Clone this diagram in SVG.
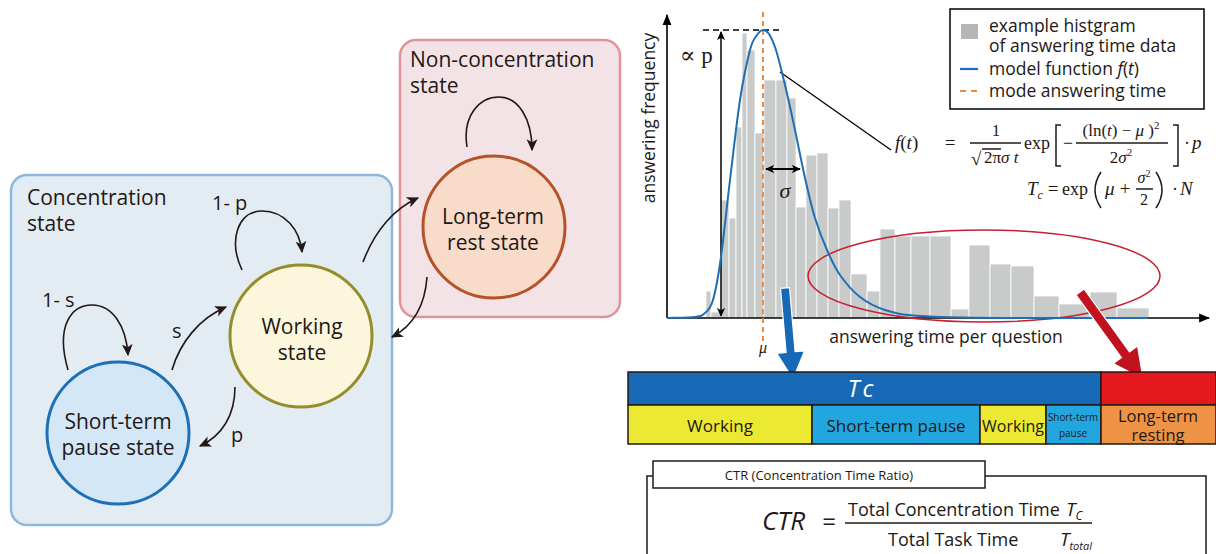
<svg xmlns="http://www.w3.org/2000/svg" width="1216" height="554" viewBox="0 0 1216 554">
<defs>
<style>
.t{font-family:"Open Sans","Liberation Sans",sans-serif;fill:#231815}
.m{font-family:"Liberation Serif","DejaVu Serif",serif;fill:#231815}
.i{font-style:italic}
.conn{fill:none;stroke:#231815;stroke-width:1.6}
.bar{fill:#c9caca;stroke:#fff;stroke-width:0.8}
.cell{stroke:#231815;stroke-width:1.5}
.ln{stroke:#231815;stroke-width:1.5;fill:none}
</style>
<marker id="ah" viewBox="0 0 10 10" refX="9" refY="5" markerWidth="12" markerHeight="12" markerUnits="userSpaceOnUse" orient="auto"><path d="M0,0.5 L10,5 L0,9.5 L2.5,5 z" fill="#231815"/></marker>
<marker id="ah2" viewBox="0 0 10 10" refX="9" refY="5" markerWidth="9" markerHeight="9" markerUnits="userSpaceOnUse" orient="auto-start-reverse"><path d="M0,0.5 L10,5 L0,9.5 L2.5,5 z" fill="#000"/></marker>
<marker id="axh" viewBox="0 0 10 10" refX="9" refY="5" markerWidth="11" markerHeight="11" markerUnits="userSpaceOnUse" orient="auto"><path d="M0,1 L10,5 L0,9 z" fill="#000"/></marker>
</defs>
<rect width="1216" height="554" fill="#fff"/>

<g id="concentration-state">
<rect x="11" y="175" width="381" height="350" rx="16" fill="#e3ebf3" stroke="#8db7dc" stroke-width="2.5"/>
<text class="t" x="27" y="205" font-size="21">Concentration</text>
<text class="t" x="27" y="231" font-size="21">state</text>
</g>
<g id="non-concentration-state">
<rect x="400" y="40" width="220" height="277" rx="16" fill="#f4e3e6" stroke="#e0939b" stroke-width="2.5"/>
<text class="t" x="410" y="67" font-size="21">Non-concentration</text>
<text class="t" x="410" y="93" font-size="21">state</text>
</g>
<g id="short-term-pause">
<circle cx="118" cy="433" r="71" fill="#d3e7f6" stroke="#1d6fb8" stroke-width="3"/>
<text class="t" x="118" y="429" font-size="21" text-anchor="middle">Short-term</text>
<text class="t" x="118" y="455" font-size="21" text-anchor="middle">pause state</text>
</g>
<g id="working">
<circle cx="301" cy="336" r="71" fill="#fbf6dc" stroke="#958d2c" stroke-width="3"/>
<text class="t" x="302" y="334" font-size="21" text-anchor="middle">Working</text>
<text class="t" x="302" y="360" font-size="21" text-anchor="middle">state</text>
</g>
<g id="long-term-rest">
<circle cx="494" cy="227" r="71" fill="#f9dbc9" stroke="#b5522a" stroke-width="3"/>
<text class="t" x="493" y="224" font-size="21" text-anchor="middle">Long-term</text>
<text class="t" x="493" y="250" font-size="21" text-anchor="middle">rest state</text>
</g>

<g id="connectors">
<path class="conn" marker-end="url(#ah)" d="M68,370 C55,325 72,305 92,305 C112,305 126,325 128,355"/>
<path class="conn" marker-end="url(#ah)" d="M242,270 C228,240 238,211 262,211 C285,211 300,230 302,252"/>
<path class="conn" marker-end="url(#ah)" d="M172,370 C180,342 200,318 226,307"/>
<path class="conn" marker-end="url(#ah)" d="M235,387 C235,415 222,436 200,446"/>
<path class="conn" marker-end="url(#ah)" d="M363,262 C375,230 395,208 418,198"/>
<path class="conn" marker-end="url(#ah)" d="M427,277 C425,305 413,326 392,337"/>
<path class="conn" marker-end="url(#ah)" d="M467,147 C462,115 480,97 499,97 C518,97 532,118 532,150"/>
<text class="t" x="42" y="307" font-size="20">1- s</text>
<text class="t" x="212" y="210" font-size="20">1- p</text>
<text class="t" x="172" y="338" font-size="20">s</text>
<text class="t" x="231" y="442" font-size="20">p</text>
</g>

<g id="histogram">
<rect class="bar" x="706" y="291" width="5" height="27"/>
<rect class="bar" x="711" y="312" width="10" height="6"/>
<rect class="bar" x="721" y="200" width="8" height="118"/>
<rect class="bar" x="729" y="218" width="7" height="100"/>
<rect class="bar" x="736" y="127" width="6" height="191"/>
<rect class="bar" x="742" y="33" width="5" height="285"/>
<rect class="bar" x="747" y="50" width="8" height="268"/>
<rect class="bar" x="755" y="133" width="9" height="185"/>
<rect class="bar" x="764" y="80" width="12" height="238"/>
<rect class="bar" x="776" y="80" width="11" height="238"/>
<rect class="bar" x="787" y="98" width="9" height="220"/>
<rect class="bar" x="796" y="207" width="10" height="111"/>
<rect class="bar" x="806" y="155" width="11" height="163"/>
<rect class="bar" x="817" y="153" width="11" height="165"/>
<rect class="bar" x="828" y="208" width="11" height="110"/>
<rect class="bar" x="839" y="200" width="12" height="118"/>
<rect class="bar" x="851" y="274" width="16" height="44"/>
<rect class="bar" x="867" y="291" width="13" height="27"/>
<rect class="bar" x="880" y="229" width="15" height="89"/>
<rect class="bar" x="895" y="236" width="16" height="82"/>
<rect class="bar" x="911" y="236" width="19" height="82"/>
<rect class="bar" x="930" y="236" width="21" height="82"/>
<rect class="bar" x="951" y="309" width="18" height="9"/>
<rect class="bar" x="969" y="245" width="21" height="73"/>
<rect class="bar" x="990" y="264" width="21" height="54"/>
<rect class="bar" x="1011" y="266" width="23" height="52"/>
<rect class="bar" x="1034" y="296" width="25" height="22"/>
<rect class="bar" x="1059" y="304" width="31" height="14"/>
<rect class="bar" x="1090" y="292" width="27" height="26"/>
<rect class="bar" x="1117" y="308" width="32" height="10"/>
</g>

<g id="axes">
<line x1="667" y1="318" x2="667" y2="15" stroke="#000" stroke-width="1.6" marker-end="url(#axh)"/>
<line x1="667" y1="318" x2="1209" y2="318" stroke="#000" stroke-width="1.6" marker-end="url(#axh)"/>
<text class="t" transform="translate(655,118) rotate(-90)" font-size="17.5" text-anchor="middle">answering frequency</text>
<text class="t" x="946" y="343" font-size="17.5" text-anchor="middle">answering time per question</text>
</g>

<g id="tail-ellipse">
<ellipse cx="984" cy="276" rx="176" ry="46" fill="none" stroke="#c8202f" stroke-width="1.5"/>
</g>

<g id="annotations">
<line x1="703" y1="30" x2="782" y2="30" stroke="#000" stroke-width="1.5" stroke-dasharray="6 4"/>
<line x1="721" y1="32" x2="721" y2="316" stroke="#000" stroke-width="1.5" marker-start="url(#ah2)" marker-end="url(#ah2)"/>
<text class="m" x="680" y="63" font-size="23">∝ p</text>
<line x1="763" y1="12" x2="763" y2="343" stroke="#f08a3c" stroke-width="2" stroke-dasharray="5 4"/>
<text class="m i" x="763" y="353" font-size="16" text-anchor="middle">μ</text>
<line x1="766" y1="169" x2="800" y2="169" stroke="#000" stroke-width="2" marker-start="url(#ah2)" marker-end="url(#ah2)"/>
<text class="m i" x="785" y="198" font-size="22" text-anchor="middle">σ</text>
<line x1="780" y1="72" x2="891" y2="150" stroke="#000" stroke-width="1.3"/>
</g>

<g id="model-curve">
<path fill="none" stroke="#1f6fb7" stroke-width="2" d="M667,318 C671.7,317.8 688.7,317.8 695,317 C701.3,316.2 702,315.8 705,313 C708,310.2 710.3,309.3 713,300 C715.7,290.7 718.2,277 721,257 C723.8,237 726.8,206.2 730,180 C733.2,153.8 736.7,121.7 740,100 C743.3,78.3 747.2,60.8 750,50 C752.8,39.2 754.8,38.3 757,35 C759.2,31.7 761,30.2 763,30 C765,29.8 766.8,30.7 769,34 C771.2,37.3 773.3,41.5 776,50 C778.7,58.5 781.8,71.7 785,85 C788.2,98.3 791.7,114.5 795,130 C798.3,145.5 801.7,163.3 805,178 C808.3,192.7 811.3,206 815,218 C818.7,230 822.8,240.5 827,250 C831.2,259.5 834.5,267.2 840,275 C845.5,282.8 852.5,291.2 860,297 C867.5,302.8 875,306.8 885,310 C895,313.2 900.8,314.7 920,316 C939.2,317.3 961.7,317.7 1000,318 L1148,318"/>
</g>

<g id="legend">
<rect x="950" y="9" width="254" height="100" fill="#fff" stroke="#000" stroke-width="1.5"/>
<rect x="961" y="24" width="17" height="15" fill="#b5b6b6"/>
<text class="t" x="989" y="32" font-size="17.5">example histgram</text>
<text class="t" x="989" y="52" font-size="17.5">of answering time data</text>
<line x1="960" y1="69" x2="978" y2="69" stroke="#1f6fb7" stroke-width="2.2"/>
<text class="t" x="989" y="75" font-size="17.5">model function <tspan class="i">f</tspan>(<tspan class="i">t</tspan>)</text>
<line x1="960" y1="91" x2="978" y2="91" stroke="#f08a3c" stroke-width="2" stroke-dasharray="6 5"/>
<text class="t" x="989" y="97" font-size="17.5">mode answering time</text>
</g>

<g id="formulas">
<text class="m" x="895" y="149" font-size="19"><tspan class="i">f</tspan>(<tspan class="i">t</tspan>)</text>
<text class="m" x="950" y="149" font-size="19" text-anchor="middle">=</text>
<text class="m" x="996" y="136" font-size="17" text-anchor="middle">1</text>
<line class="ln" x1="970" y1="143" x2="1021" y2="143" stroke-width="1"/>
<text class="m" x="971" y="165" font-size="19">√</text>
<line class="ln" x1="982" y1="149" x2="1001" y2="149" stroke-width="1"/>
<text class="m" x="984" y="163" font-size="17">2π<tspan class="i">σ t</tspan></text>
<text class="m" x="1024" y="149" font-size="18">exp</text>
<path class="ln" stroke-width="1.2" d="M1061,125 H1056 V166 H1061"/>
<text class="m" x="1068" y="149" font-size="18" text-anchor="middle">−</text>
<text class="m" x="1121" y="136" font-size="17" text-anchor="middle">(ln(<tspan class="i">t</tspan>) − <tspan class="i">μ</tspan> )<tspan font-size="11" dy="-7">2</tspan></text>
<line class="ln" x1="1076" y1="143" x2="1168" y2="143" stroke-width="1"/>
<text class="m" x="1121" y="163" font-size="17" text-anchor="middle">2<tspan class="i">σ</tspan><tspan font-size="11" dy="-7">2</tspan></text>
<path class="ln" stroke-width="1.2" d="M1173,125 H1178 V166 H1173"/>
<text class="m" x="1184" y="149" font-size="18">·</text>
<text class="m i" x="1192" y="149" font-size="19">p</text>

<text class="m" x="1027" y="195" font-size="19"><tspan class="i">T</tspan><tspan font-size="12" dy="4" class="i">c</tspan></text>
<text class="m" x="1053" y="195" font-size="19" text-anchor="middle">=</text>
<text class="m" x="1062" y="195" font-size="18">exp</text>
<path class="ln" stroke-width="1.2" d="M1101,172 Q1089,190 1101,208"/>
<text class="m i" x="1105" y="195" font-size="19">μ</text>
<text class="m" x="1125" y="195" font-size="19" text-anchor="middle">+</text>
<text class="m" x="1144" y="183" font-size="16" text-anchor="middle"><tspan class="i">σ</tspan><tspan font-size="10" dy="-6">2</tspan></text>
<line class="ln" x1="1136" y1="189" x2="1153" y2="189" stroke-width="1"/>
<text class="m" x="1144" y="205" font-size="16" text-anchor="middle">2</text>
<path class="ln" stroke-width="1.2" d="M1156,172 Q1168,190 1156,208"/>
<text class="m" x="1172" y="195" font-size="18">·</text>
<text class="m i" x="1180" y="195" font-size="19">N</text>
</g>

<g id="big-arrows">
<polygon points="789.5,287.6 795.1,351.7 804.5,350.9 793,379 776.7,353.3 786.1,352.5 780.5,288.4" fill="#1769b5" stroke="#fff" stroke-width="1.2"/>
<polygon points="1084,289 1129.5,351.8 1137.6,345.9 1143,379 1113.3,363.5 1121.4,357.6 1076,294.9" fill="#c1121f" stroke="#fff" stroke-width="1.2"/>
</g>

<g id="time-bar">
<rect class="cell" x="628" y="372" width="473" height="33" fill="#1769b5"/>
<rect class="cell" x="1101" y="372" width="115" height="33" fill="#e5191d"/>
<text class="t i" x="862" y="397" font-size="24" text-anchor="middle" letter-spacing="3" style="fill:#fff">Tc</text>
<rect class="cell" x="628" y="405" width="184" height="39" fill="#ece932"/>
<rect class="cell" x="812" y="405" width="168" height="39" fill="#22a6df"/>
<rect class="cell" x="980" y="405" width="66" height="39" fill="#ece932"/>
<rect class="cell" x="1046" y="405" width="55" height="39" fill="#22a6df"/>
<rect class="cell" x="1101" y="405" width="115" height="39" fill="#ee9345"/>
<text class="t" x="720" y="432" font-size="17" text-anchor="middle">Working</text>
<text class="t" x="896" y="432" font-size="17" text-anchor="middle">Short-term pause</text>
<text class="t" x="1013" y="432" font-size="16" text-anchor="middle">Working</text>
<text class="t" x="1073" y="421" font-size="10" text-anchor="middle" textLength="50" lengthAdjust="spacingAndGlyphs">Short-term</text>
<text class="t" x="1073" y="437" font-size="10" text-anchor="middle">pause</text>
<text class="t" x="1158" y="422" font-size="16.5" text-anchor="middle">Long-term</text>
<text class="t" x="1158" y="441" font-size="16.5" text-anchor="middle">resting</text>
</g>

<g id="ctr-box">
<path class="ln" d="M653,476 H647 V556 M985,476 H1206 V556"/>
<rect x="653" y="461" width="332" height="27" fill="#fff" stroke="#231815" stroke-width="1.5"/>
<text class="t" x="819" y="480" font-size="13" text-anchor="middle">CTR (Concentration Time Ratio)</text>
<text class="t i" x="762" y="530" font-size="26">CTR</text>
<text class="t" x="829" y="530" font-size="24" text-anchor="middle">=</text>
<text class="t" x="848" y="516" font-size="18">Total Concentration Time</text>
<text class="t i" x="1066" y="516" font-size="19">T<tspan font-size="12" dy="4">C</tspan></text>
<line class="ln" x1="845" y1="523" x2="1092" y2="523"/>
<text class="t" x="888" y="546" font-size="18">Total Task Time</text>
<text class="t i" x="1060" y="546" font-size="19">T<tspan font-size="11" dy="4">total</tspan></text>
</g>
</svg>
